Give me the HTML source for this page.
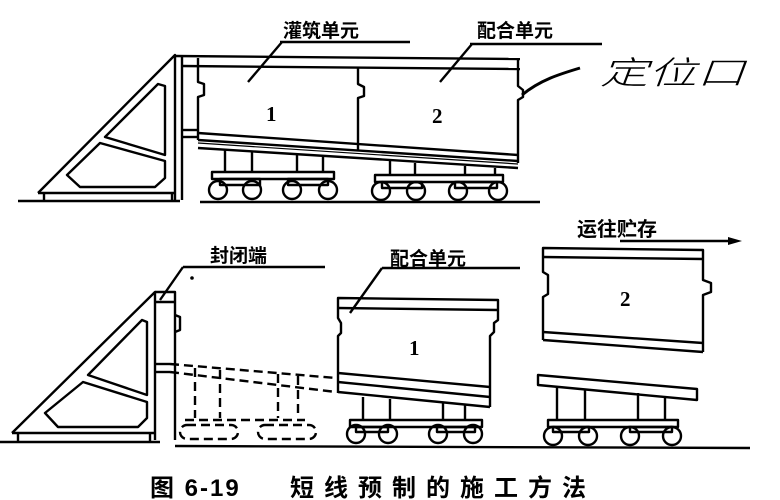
<!DOCTYPE html>
<html><head><meta charset="utf-8"><style>
html,body{margin:0;padding:0;background:#fff;}
svg{display:block;}
.t{font-family:"Liberation Sans","Noto Sans CJK SC",sans-serif;font-weight:bold;fill:#000;}
.n{font-family:"Liberation Serif",serif;font-weight:bold;fill:#000;}
</style></head><body>
<svg width="780" height="500" viewBox="0 0 780 500" xmlns="http://www.w3.org/2000/svg">
<g fill="none" stroke="#000" stroke-width="2.4" stroke-linejoin="round">
<line x1="18" y1="201" x2="180" y2="201"/>
<line x1="200" y1="202" x2="540" y2="202"/>
<polyline points="38,193 175,55 175,200"/>
<line x1="38" y1="193" x2="175" y2="193"/>
<line x1="44" y1="193" x2="44" y2="201"/>
<line x1="172" y1="193" x2="172" y2="201"/>
<line x1="182" y1="57" x2="182" y2="200"/>
<polygon points="158,84 165,86 165,155 105,137"/>
<polygon points="100,143 165,161 165,178 155,187 80,187 67,175"/>
<line x1="175" y1="56" x2="520" y2="59"/>
<line x1="182" y1="66" x2="520" y2="69"/>
<polyline points="198,58 198,82 204,84 204,95 198,97 198,140"/>
<polyline points="358,67 358,84 364,87 364,96 358,98 358,150"/>
<polyline points="518,59 518,86 523,90 523,97 518,100 518,163"/>
<line x1="182" y1="130" x2="198" y2="130"/>
<line x1="182" y1="137" x2="198" y2="137"/>
<line x1="198" y1="133" x2="518" y2="155"/>
<line x1="198" y1="140" x2="518" y2="161"/>
<line x1="198" y1="143" x2="518" y2="164" stroke-width="1.2"/>
<line x1="198" y1="148" x2="518" y2="168"/>
<line x1="225" y1="150" x2="225" y2="172"/><line x1="252" y1="152" x2="252" y2="172"/>
<line x1="297" y1="155" x2="297" y2="172"/><line x1="323" y1="157" x2="323" y2="172"/>
<line x1="390" y1="161" x2="390" y2="175"/><line x1="415" y1="163" x2="415" y2="175"/>
<line x1="465" y1="166" x2="465" y2="175"/><line x1="495" y1="168" x2="495" y2="175"/>
<rect x="212" y="172" width="122" height="7"/>
<rect x="220" y="179" width="40" height="6"/><rect x="288" y="179" width="40" height="6"/>
<rect x="375" y="175" width="128" height="7"/>
<rect x="382" y="182" width="40" height="6"/><rect x="455" y="182" width="42" height="6"/>
<circle cx="218" cy="190" r="9"/><circle cx="252" cy="190" r="9"/>
<circle cx="292" cy="190" r="9"/><circle cx="328" cy="190" r="9"/>
<circle cx="381" cy="191" r="9"/><circle cx="416" cy="191" r="9"/>
<circle cx="458" cy="191" r="9"/><circle cx="498" cy="191" r="9"/>
<line x1="280" y1="42" x2="410" y2="42"/>
<line x1="282" y1="42" x2="248" y2="82"/>
<line x1="470" y1="44" x2="602" y2="44"/>
<line x1="472" y1="44" x2="440" y2="82"/>
<path d="M522,95 C540,80 560,74 580,68" stroke-width="3"/>

<line x1="0" y1="442" x2="160" y2="442"/>
<line x1="175" y1="446" x2="750" y2="448"/>
<polyline points="12,433 155,292 155,440"/>
<line x1="12" y1="433" x2="155" y2="433"/>
<line x1="18" y1="433" x2="18" y2="441"/>
<line x1="150" y1="433" x2="150" y2="441"/>
<polyline points="155,292 175,292 175,440"/>
<line x1="155" y1="302" x2="175" y2="302"/>
<polyline points="175,315 180,317 180,330 175,332"/>
<polygon points="142,320 147,322 147,395 88,375"/>
<polygon points="83,382 147,402 147,418 138,427 58,427 45,413"/>
<line x1="155" y1="364" x2="170" y2="364"/>
<line x1="155" y1="372" x2="170" y2="372"/>
<g stroke-dasharray="9,5">
<line x1="170" y1="364" x2="336" y2="378"/>
<line x1="170" y1="372" x2="336" y2="392"/>
<line x1="195" y1="368" x2="195" y2="418"/><line x1="220" y1="370" x2="220" y2="418"/>
<line x1="278" y1="374" x2="278" y2="418"/><line x1="298" y1="376" x2="298" y2="418"/>
<line x1="185" y1="420" x2="305" y2="420"/>
<rect x="180" y="425" width="58" height="14" rx="7"/>
<rect x="258" y="425" width="58" height="14" rx="7"/>
</g>
<polyline points="338,393 338,336 341,333 341,323 338,318 338,298 498,300 498,320 494,323 494,332 490,336 490,407"/>
<line x1="338" y1="308" x2="498" y2="310"/>
<line x1="338" y1="373" x2="490" y2="387"/>
<line x1="338" y1="382" x2="490" y2="397"/>
<line x1="338" y1="392" x2="490" y2="407"/>
<line x1="363" y1="397" x2="363" y2="420"/><line x1="390" y1="399" x2="390" y2="420"/>
<line x1="443" y1="403" x2="443" y2="420"/><line x1="465" y1="405" x2="465" y2="420"/>
<rect x="350" y="420" width="132" height="7"/>
<rect x="356" y="427" width="32" height="5"/><rect x="437" y="427" width="38" height="5"/>
<circle cx="356" cy="434" r="9"/><circle cx="388" cy="434" r="9"/>
<circle cx="438" cy="434" r="9"/><circle cx="473" cy="434" r="9"/>
<polyline points="543,340 543,297 548,294 548,275 543,272 543,248 703,250 703,280 711,283 711,292 703,295 703,352"/>
<line x1="543" y1="257" x2="703" y2="259"/>
<line x1="543" y1="332" x2="703" y2="343"/>
<line x1="543" y1="340" x2="703" y2="352"/>
<polygon points="538,375 697,389 697,400 538,385"/>
<line x1="557" y1="386" x2="557" y2="420"/><line x1="585" y1="389" x2="585" y2="420"/>
<line x1="638" y1="393" x2="638" y2="420"/><line x1="665" y1="396" x2="665" y2="420"/>
<rect x="548" y="420" width="130" height="7"/>
<rect x="553" y="427" width="36" height="5"/><rect x="630" y="427" width="42" height="5"/>
<circle cx="553" cy="436" r="9"/><circle cx="588" cy="436" r="9"/>
<circle cx="630" cy="436" r="9"/><circle cx="672" cy="436" r="9"/>
<line x1="183" y1="267" x2="325" y2="267"/>
<line x1="183" y1="267" x2="160" y2="300"/>
<line x1="382" y1="268" x2="520" y2="268"/>
<line x1="382" y1="268" x2="350" y2="313"/>
<line x1="620" y1="241" x2="730" y2="241"/>
</g>
<polygon points="742,241 728,237 728,245" fill="#000"/>
<circle cx="192" cy="278" r="1.8" fill="#000"/>
<text class="t" x="283" y="37" font-size="19">灌筑单元</text>
<text class="t" x="477" y="37" font-size="19">配合单元</text>
<text class="n" x="266" y="121" font-size="21">1</text>
<text class="n" x="432" y="123" font-size="21">2</text>
<text x="600" y="84" font-size="32" font-style="italic" style="font-family:'Noto Sans CJK SC',sans-serif;font-weight:300" fill="#000" textLength="145" lengthAdjust="spacingAndGlyphs">定位口</text>
<text class="t" x="577" y="236" font-size="20">运往贮存</text>
<text class="t" x="210" y="262" font-size="19">封闭端</text>
<text class="t" x="390" y="265" font-size="19">配合单元</text>
<text class="n" x="409" y="355" font-size="21">1</text>
<text class="n" x="620" y="306" font-size="21">2</text>
<text class="t" x="150" y="496" font-size="24" letter-spacing="2">图 6-19</text>
<text class="t" x="290" y="496" font-size="24" letter-spacing="10">短线预制的施工方法</text>
</svg>
</body></html>
